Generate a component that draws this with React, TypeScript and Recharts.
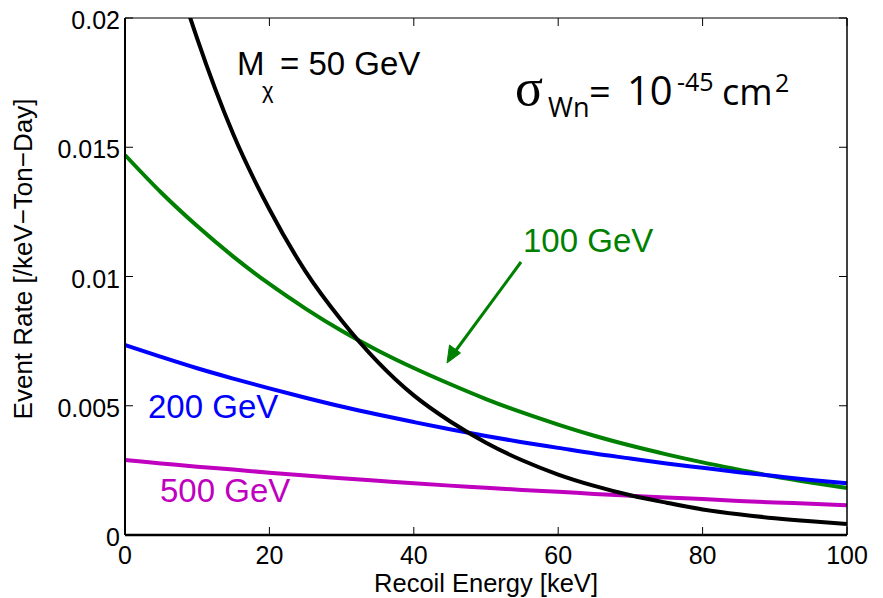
import React from "react";
import { LineChart, Line, XAxis, YAxis } from "recharts";

const energies = [0, 5, 10, 15, 20, 25, 30, 35, 40, 45, 50, 55, 60, 65, 70, 75, 80, 85, 90, 95, 100];
const rate50 = [0.0292, 0.0237, 0.0192, 0.0155, 0.0126, 0.0102, 0.0083, 0.0067, 0.0054, 0.0044, 0.00357, 0.00289, 0.00234, 0.0019, 0.00154, 0.00125, 0.00099, 0.0008, 0.00065, 0.00053, 0.00043];
const rate100 = [0.0147, 0.01325, 0.01195, 0.01077, 0.00971, 0.00876, 0.0079, 0.00714, 0.00646, 0.00584, 0.00526, 0.00474, 0.00427, 0.00384, 0.00346, 0.00312, 0.00281, 0.00253, 0.00226, 0.00203, 0.00182];
const rate200 = [0.00735, 0.00689, 0.00645, 0.00605, 0.00567, 0.00531, 0.00497, 0.00466, 0.00437, 0.00409, 0.00383, 0.00359, 0.00337, 0.00315, 0.00296, 0.00277, 0.0026, 0.00243, 0.00228, 0.00213, 0.002];
const rate500 = [0.0029, 0.00277, 0.00264, 0.00253, 0.00241, 0.0023, 0.0022, 0.0021, 0.002, 0.00191, 0.00183, 0.00174, 0.00167, 0.00159, 0.00152, 0.00145, 0.00139, 0.00132, 0.00126, 0.00121, 0.00115];

const xTicks = [0, 20, 40, 60, 80, 100];
const yTicks = [0, 0.005, 0.01, 0.015, 0.02];

const data = energies.map((e, i) => ({
  energy: e,
  m50: rate50[i],
  m100: rate100[i],
  m200: rate200[i],
  m500: rate500[i],
}));

const FONT = "'Liberation Sans', Arial, Helvetica, sans-serif";
const CAL = "'Open Sans', 'Lato', sans-serif";

const XTickBottom = (props: any) => {
  const { x, y, payload } = props;
  return (
    <g>
      <line x1={x} y1={y} x2={x} y2={y - 8} stroke="#000" strokeWidth={1} />
      <text x={x} y={y + 29} textAnchor="middle" fontSize={25} fontFamily={FONT} fill="#000">
        {String(payload.value)}
      </text>
    </g>
  );
};

const XTickTop = (props: any) => {
  const { x, y } = props;
  return <line x1={x} y1={y} x2={x} y2={y + 8} stroke="#000" strokeWidth={1} />;
};

const YTickLeft = (props: any) => {
  const { x, y, payload } = props;
  return (
    <g>
      <line x1={x} y1={y} x2={x + 8} y2={y} stroke="#000" strokeWidth={1} />
      <text x={x - 5} y={y + 11} textAnchor="end" fontSize={25} fontFamily={FONT} fill="#000">
        {String(payload.value)}
      </text>
    </g>
  );
};

const YTickRight = (props: any) => {
  const { x, y } = props;
  return <line x1={x} y1={y} x2={x - 8} y2={y} stroke="#000" strokeWidth={1} />;
};

export default function App() {
  return (
    <div style={{ position: "relative", width: 883, height: 598, margin: "-8px 0 0 -8px" }}>
      <LineChart
        width={883}
        height={598}
        data={data}
        margin={{ top: 13, right: 26, bottom: 23, left: 65 }}
      >
        <XAxis
          dataKey="energy"
          type="number"
          domain={[0, 100]}
          ticks={xTicks}
          interval={0}
          height={40}
          tickSize={0}
          tickMargin={0}
          tickLine={false}
          tick={<XTickBottom />}
          axisLine={{ stroke: "#000", strokeWidth: 2.5 }}
        />
        <XAxis
          xAxisId="top"
          orientation="top"
          dataKey="energy"
          type="number"
          domain={[0, 100]}
          ticks={xTicks}
          interval={0}
          height={5}
          tickSize={0}
          tickMargin={0}
          tickLine={false}
          tick={<XTickTop />}
          axisLine={{ stroke: "#000", strokeWidth: 1 }}
        />
        <YAxis
          type="number"
          domain={[0, 0.02]}
          allowDataOverflow
          ticks={yTicks}
          interval={0}
          width={60}
          tickSize={0}
          tickMargin={0}
          tickLine={false}
          tick={<YTickLeft />}
          axisLine={{ stroke: "#000", strokeWidth: 2 }}
        />
        <YAxis
          yAxisId="right"
          orientation="right"
          type="number"
          domain={[0, 0.02]}
          allowDataOverflow
          ticks={yTicks}
          interval={0}
          width={10}
          tickSize={0}
          tickMargin={0}
          tickLine={false}
          tick={<YTickRight />}
          axisLine={{ stroke: "#000", strokeWidth: 1.5 }}
        />
        <Line type="monotone" dataKey="m500" stroke="#bf00bf" strokeWidth={4} dot={false} isAnimationActive={false} />
        <Line type="monotone" dataKey="m100" stroke="#008000" strokeWidth={4} dot={false} isAnimationActive={false} />
        <Line type="monotone" dataKey="m200" stroke="#0000ff" strokeWidth={4} dot={false} isAnimationActive={false} />
        <Line type="monotone" dataKey="m50" stroke="#000000" strokeWidth={4} dot={false} isAnimationActive={false} />
      </LineChart>
      <svg
        width={883}
        height={598}
        style={{ position: "absolute", left: 0, top: 0, pointerEvents: "none" }}
      >
        <text
          transform="translate(32,259) rotate(-90)"
          textAnchor="middle"
          fontSize={26}
          fontFamily={FONT}
          fill="#000"
        >
          Event Rate [/keV−Ton−Day]
        </text>
        <text x={486} y={592} textAnchor="middle" fontSize={25.5} fontFamily={FONT} fill="#000">
          Recoil Energy [keV]
        </text>

        <text x={237} y={75} fontSize={33} fontFamily={FONT} fill="#000">M</text>
        <text x={262} y={98} fontSize={22} fontFamily={FONT} fill="#000">χ</text>
        <text x={280} y={75} fontSize={33} fontFamily={FONT} fill="#000">= 50 GeV</text>

        <text x={515} y={105} fontSize={52} fontFamily="'Liberation Serif', 'Times New Roman', serif" fill="#000">σ</text>
        <text x={548} y={117} fontSize={27} fontFamily={CAL} fill="#000">Wn</text>
        <text x={589} y={105} fontSize={38} fontFamily={CAL} fill="#000">=</text>
        <text x={627} y={105} fontSize={40} fontFamily={CAL} fill="#000">10</text>
        <text x={677} y={91} fontSize={25} fontFamily={CAL} fill="#000">-45</text>
        <text x={722} y={105} fontSize={36} fontFamily={CAL} fill="#000">cm</text>
        <text x={775} y={92} fontSize={25} fontFamily={CAL} fill="#000">2</text>

        <text x={523} y={252} fontSize={33} fontFamily={FONT} fill="#008000">100 GeV</text>
        <line x1={521} y1={262} x2={454} y2={353} stroke="#008000" strokeWidth={3} />
        <polygon points="447,363 449.5,345 460.5,353" fill="#008000" stroke="#008000" strokeWidth={1} />

        <text x={148} y={418} fontSize={33} fontFamily={FONT} fill="#0000ff">200 GeV</text>
        <text x={160} y={502} fontSize={33} fontFamily={FONT} fill="#bf00bf">500 GeV</text>
      </svg>
    </div>
  );
}
